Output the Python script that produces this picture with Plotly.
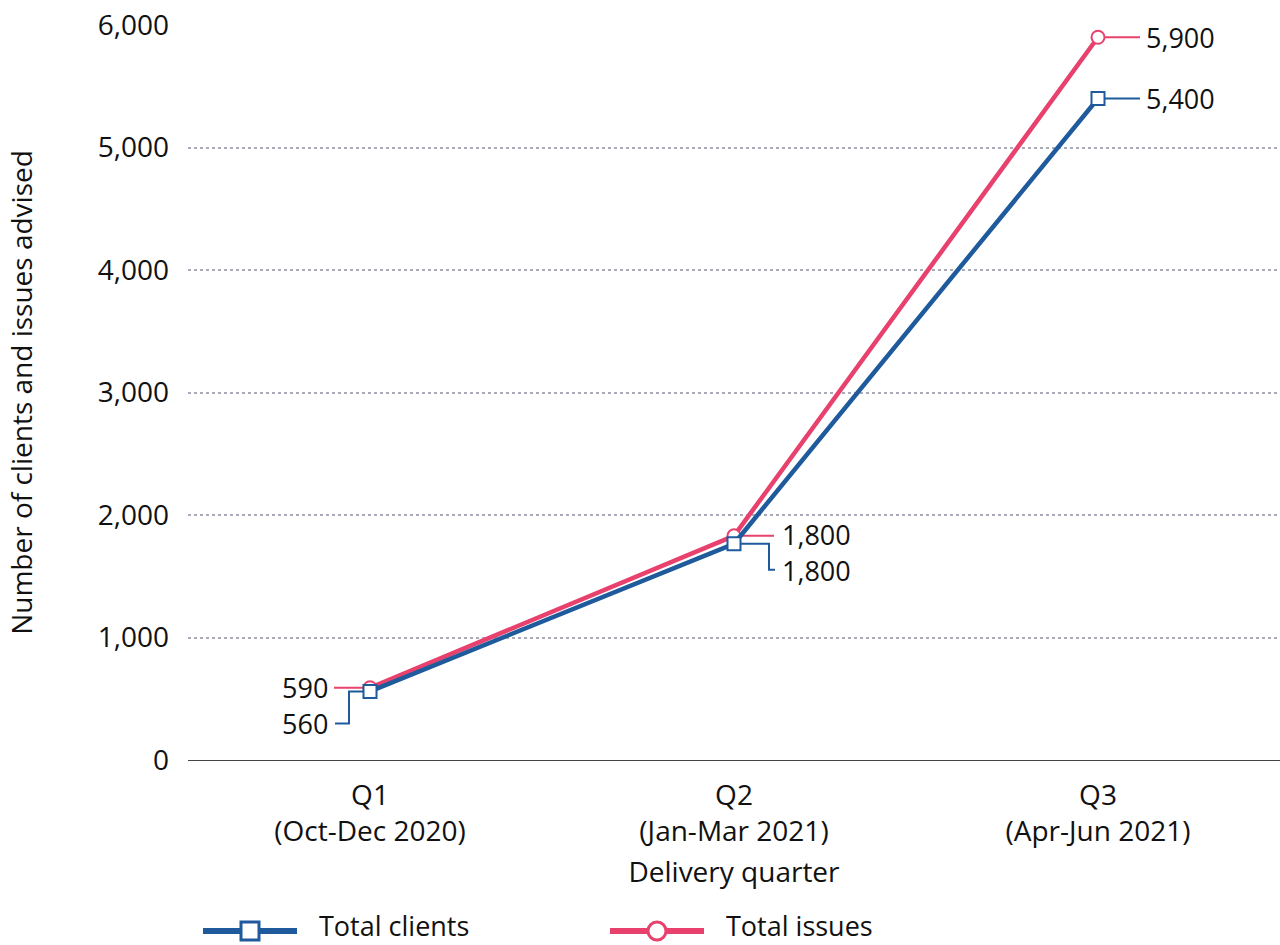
import plotly.graph_objects as go
from math import floor, log10

# Quarterly delivery figures
quarters = ["Q1<br>(Oct-Dec 2020)", "Q2<br>(Jan-Mar 2021)", "Q3<br>(Apr-Jun 2021)"]
total_clients = [560, 1765, 5400]
total_issues = [590, 1830, 5900]

BLUE = "#1f5b9c"
PINK = "#e8416d"
FONT = "Open Sans"
FS = 28

W, H = 1280, 945
ML, MR, MT, MB = 188, 0, 25, 185
PW, PH = W - ML - MR, H - MT - MB

xs = list(range(len(quarters)))


def label(v):
    # two significant figures, thousands separator
    mag = 10 ** (floor(log10(v)) - 1)
    return f"{int(round(v / mag) * mag):,}"


fig = go.Figure()
# issues first so the clients series sits on top
fig.add_trace(go.Scatter(
    x=xs, y=total_issues, name="Total issues", mode="lines+markers",
    line=dict(color=PINK, width=4.5),
    marker=dict(symbol="circle", size=13, color="white", line=dict(color=PINK, width=2)),
))
fig.add_trace(go.Scatter(
    x=xs, y=total_clients, name="Total clients", mode="lines+markers",
    line=dict(color=BLUE, width=4.5),
    marker=dict(symbol="square", size=13, color="white", line=dict(color=BLUE, width=2)),
))

# leader paths (pixel offsets from each point) and value labels
leaders = [
    (total_issues, 0, PINK, "M 0,0 L -36,0", -40, 0, "right"),
    (total_clients, 0, BLUE, "M 0,0 L -21,0 L -21,-32 L -35,-32", -40, -32, "right"),
    (total_issues, 1, PINK, "M 0,0 L 40,0", 46, 1, "left"),
    (total_clients, 1, BLUE, "M 0,0 L 35,0 L 35,-26 L 41,-26", 46, -27, "left"),
    (total_issues, 2, PINK, "M 0,0 L 42,0", 46, 0, "left"),
    (total_clients, 2, BLUE, "M 0,0 L 42,0", 46, 0, "left"),
]
for vals, i, col, path, dx, dy, anchor in leaders:
    fig.add_shape(
        type="path", path=path, xref="x", yref="y",
        xsizemode="pixel", ysizemode="pixel", xanchor=xs[i], yanchor=vals[i],
        line=dict(color=col, width=2), layer="below",
    )
    fig.add_annotation(
        x=xs[i], y=vals[i], xref="x", yref="y", text=label(vals[i]),
        showarrow=False, xshift=dx, yshift=dy, xanchor=anchor, yanchor="middle",
        font=dict(family=FONT, size=27, color="#111111"),
    )

# key below the chart
key = [
    ("Total clients", BLUE, "rect", 203),
    ("Total issues", PINK, "circle", 610),
]
KEY_Y = 931
ky = (MT + PH - KEY_Y) / PH
for name, col, sym, x0 in key:
    fig.add_shape(
        type="line", xref="paper", yref="paper",
        x0=(x0 - ML) / PW, x1=(x0 + 94 - ML) / PW, y0=ky, y1=ky,
        line=dict(color=col, width=6),
    )
    cx = (x0 + 47 - ML) / PW
    fig.add_shape(
        type=sym, xref="paper", yref="paper", xsizemode="pixel", ysizemode="pixel",
        xanchor=cx, yanchor=ky, x0=-9, x1=9, y0=-9, y1=9,
        fillcolor="white", line=dict(color=col, width=3),
    )
    fig.add_annotation(
        x=(x0 + 114 - ML) / PW, y=ky, yshift=5, xref="paper", yref="paper", text=name,
        showarrow=False, xanchor="left", yanchor="middle",
        font=dict(family=FONT, size=27, color="#111111"),
    )

fig.update_layout(
    width=W, height=H,
    margin=dict(l=ML, r=MR, t=MT, b=MB, autoexpand=False),
    paper_bgcolor="white", plot_bgcolor="white",
    font=dict(family=FONT, size=FS, color="#111111"),
    showlegend=False,
    xaxis=dict(
        tickmode="array", tickvals=xs, ticktext=quarters,
        range=[-0.5, 2.5], showgrid=False, zeroline=False,
        showline=True, linecolor="#444444", linewidth=1,
        ticks="", ticklabelstandoff=10, tickfont=dict(size=FS),
        title=dict(text="Delivery quarter", font=dict(size=FS), standoff=14),
    ),
    yaxis=dict(
        range=[0, 6000], tickvals=[0, 1000, 2000, 3000, 4000, 5000, 6000],
        tickformat=",", showgrid=True, gridcolor="#a9abb8", griddash="dot", gridwidth=1.5,
        zeroline=False, ticks="", ticklabelstandoff=18, tickfont=dict(size=FS),
        title=dict(text="Number of clients and issues advised", font=dict(size=FS), standoff=56),
    ),
)

fig.write_html("out.html")
